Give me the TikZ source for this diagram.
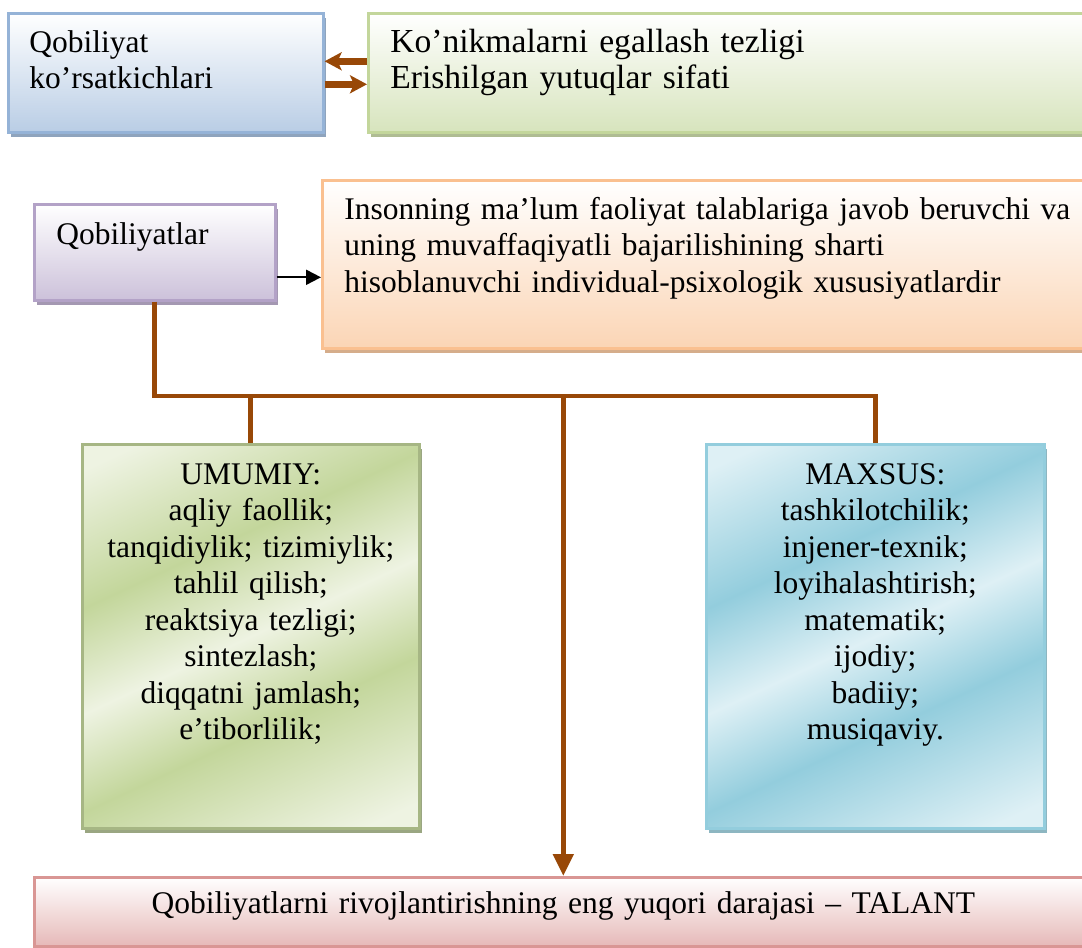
\documentclass[tikz,border=0pt]{standalone}
\usepackage{fontspec}
\setmainfont{Liberation Serif}
\usetikzlibrary{arrows.meta,shadows}

\definecolor{kokchiz}{HTML}{95B3D7}
\definecolor{kokfon}{HTML}{B9CDE5}
\definecolor{yashilchiz}{HTML}{C3D69B}
\definecolor{yashilfon}{HTML}{D7E4BD}
\definecolor{binafshachiz}{HTML}{B3A2C7}
\definecolor{binafshafon}{HTML}{CCC1DA}
\definecolor{sariqchiz}{HTML}{FAC090}
\definecolor{sariqfon}{HTML}{FBD5B5}
\definecolor{qizilchiz}{HTML}{D99694}
\definecolor{qizilfon}{HTML}{E6B9B8}
\definecolor{umoch}{HTML}{EEF3E2}
\definecolor{umtoq}{HTML}{C3D69B}
\definecolor{maxoch}{HTML}{DEF0F5}
\definecolor{maxtoq}{HTML}{93CDDD}
\definecolor{jigar}{HTML}{984807}

\pgfdeclarehorizontalshading{umumiyfon}{100bp}{color(0bp)=(umoch); color(20bp)=(umoch);
  color(37bp)=(umtoq); color(50bp)=(umoch); color(62bp)=(umtoq); color(80bp)=(umoch); color(100bp)=(umoch)}
\pgfdeclarehorizontalshading{maxsusfon}{100bp}{color(0bp)=(maxoch); color(20bp)=(maxoch);
  color(37bp)=(maxtoq); color(50bp)=(maxoch); color(62bp)=(maxtoq); color(80bp)=(maxoch); color(100bp)=(maxoch)}

\tikzset{
  quti/.style={draw=#1, line width=1.3pt, anchor=north west, inner ysep=0pt,
    font=\fontsize{15.75}{18.25}\selectfont,
    drop shadow={shadow xshift=1.5pt, shadow yshift=-2.5pt, fill=#1!70!gray, opacity=1}},
  chap/.style={align=left, inner xsep=11pt, text height=19.5pt},
  orta/.style={align=center, inner xsep=5pt, text height=20pt},
  jigarchiz/.style={draw=jigar, line width=2.4pt},
  jigaruq/.style={draw=jigar, line width=3.2pt, -{Stealth[length=8.5pt, width=9pt, inset=2pt]}}
}

\begin{document}
\begin{tikzpicture}[x=0.5pt, y=-0.5pt]
\clip (0,0) rectangle (1082,948);

\node[quti=kokchiz, chap, top color=white, bottom color=kokfon,
  text width=136.5pt, inner xsep=10.5pt, text depth=40pt]
  (korsatkich) at (7,12) {Qobiliyat\\ko’rsatkichlari};
\node[quti=yashilchiz, chap, top color=white, bottom color=yashilfon,
  font=\fontsize{16.8}{18.25}\selectfont, text width=360pt, text depth=40pt]
  (mezon) at (367,12) {Ko’nikmalarni egallash tezligi\\Erishilgan yutuqlar sifati};

\draw[jigaruq] ([yshift=5.75pt]mezon.west) -- ([yshift=5.75pt]korsatkich.east);
\draw[jigaruq] ([yshift=-5.75pt]korsatkich.east) -- ([yshift=-5.75pt]mezon.west);

\node[quti=binafshachiz, chap, top color=white, bottom color=binafshafon,
  text width=98.5pt, text height=20pt, text depth=28pt]
  (qobiliyat) at (33,203) {Qobiliyatlar};
\node[quti=sariqchiz, chap, top color=white, bottom color=sariqfon,
  text width=420pt, text depth=64.5pt]
  (tarif) at (321,179) {Insonning ma’lum faoliyat talablariga javob beruvchi va\\
  uning muvaffaqiyatli bajarilishining sharti\\
  hisoblanuvchi individual-psixologik xususiyatlardir};

\draw[line width=1pt, -{Triangle[length=7.5pt, width=7.5pt]}]
  ([yshift=-12.5pt]qobiliyat.east) -- ([yshift=-12.5pt]qobiliyat.east -| tarif.west);

\node[quti=yashilchiz!85!black, orta, shading=umumiyfon, shading angle=-65,
  text width=158.5pt, text depth=172pt]
  (umumiy) at (81,443) {UMUMIY:\\aqliy faollik;\\tanqidiylik; tizimiylik;\\tahlil qilish;\\
  reaktsiya tezligi;\\sintezlash;\\diqqatni jamlash;\\e’tiborlilik;};
\node[quti=maxtoq, orta, shading=maxsusfon, shading angle=-65,
  text width=159pt, text depth=172pt]
  (maxsus) at (705,443) {MAXSUS:\\tashkilotchilik;\\injener-texnik;\\loyihalashtirish;\\
  matematik;\\ijodiy;\\badiiy;\\musiqaviy.};

\node[quti=qizilchiz, orta, top color=white, bottom color=qizilfon,
  text width=519pt, text height=18pt, text depth=16.5pt]
  (talant) at (33,876) {Qobiliyatlarni rivojlantirishning eng yuqori darajasi – TALANT};

\coordinate (tugun) at (talant.north |- 0,396);
\draw[jigarchiz] (qobiliyat.south) |- (tugun) -| (maxsus.north);
\draw[jigarchiz] (umumiy.north) -- (umumiy.north |- tugun);
\draw[jigarchiz, -{Triangle[length=11pt, width=10pt]}] (tugun) -- (talant.north);
\end{tikzpicture}
\end{document}
